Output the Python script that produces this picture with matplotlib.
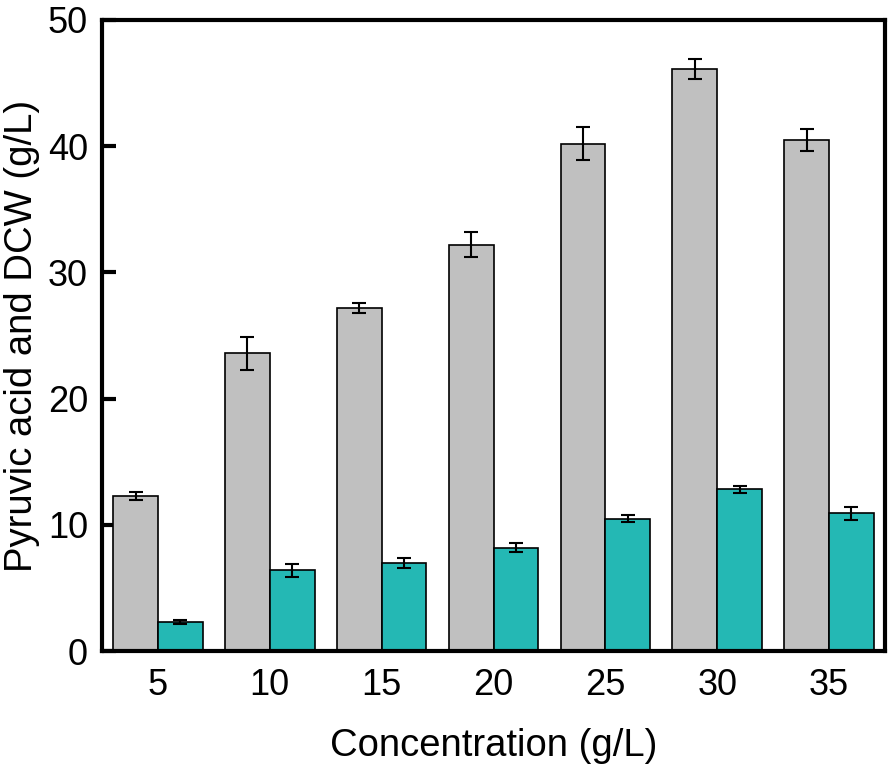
import matplotlib
matplotlib.use("Agg")
import matplotlib.pyplot as plt
import numpy as np

plt.rcParams['font.family'] = ['Liberation Sans', 'DejaVu Sans']

categories = ['5', '10', '15', '20', '25', '30', '35']
pyruvic = [12.3, 23.6, 27.2, 32.2, 40.2, 46.1, 40.5]
pyruvic_err = [0.3, 1.3, 0.4, 1.0, 1.3, 0.8, 0.85]
dcw = [2.3, 6.4, 7.0, 8.2, 10.5, 12.8, 10.9]
dcw_err = [0.15, 0.5, 0.4, 0.35, 0.3, 0.3, 0.5]

fig = plt.figure(figsize=(8.9, 7.68), dpi=100)
ax = fig.add_axes([0.1146, 0.1523, 0.8798, 0.8217])

x = np.arange(len(categories))
w = 0.4
ekw = dict(elinewidth=1.5, capthick=1.5)
ax.bar(x - w/2, pyruvic, w, yerr=pyruvic_err, color='#c0c0c0', edgecolor='black',
       linewidth=1.2, capsize=5, error_kw=ekw, zorder=2)
ax.bar(x + w/2, dcw, w, yerr=dcw_err, color='#24b8b4', edgecolor='black',
       linewidth=1.2, capsize=5, error_kw=ekw, zorder=2)

ax.set_xlim(-0.5, len(categories) - 0.5)
ax.set_ylim(0, 50)
ax.set_xticks(x)
ax.set_xticklabels(categories)
ax.set_yticks([0, 10, 20, 30, 40, 50])
ax.tick_params(axis='both', direction='in', width=3, length=10, labelsize=26)
ax.tick_params(axis='x', length=7, pad=12)
ax.tick_params(axis='y', pad=10)
for s in ax.spines.values():
    s.set_linewidth(3)
ax.set_xlabel('Concentration (g/L)', fontsize=27.5, labelpad=18)
ax.set_ylabel('Pyruvic acid and DCW (g/L)', fontsize=27.5, labelpad=6)

fig.savefig('out.png', dpi=100)
